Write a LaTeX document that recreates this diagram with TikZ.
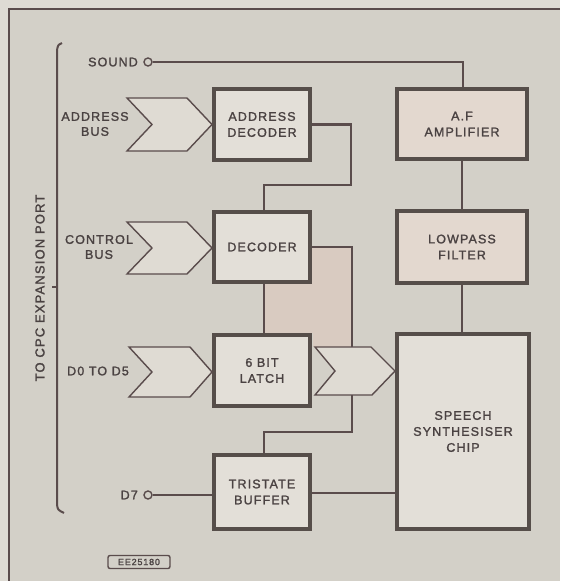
\documentclass[tikz,border=0pt]{standalone}
\usepackage{fontspec}
\setmainfont{Liberation Sans}[LetterSpace=9,FakeBold=1.6]
\usetikzlibrary{calc}
\definecolor{bgc}{HTML}{D3D0C8}
\definecolor{outc}{HTML}{DEDBD4}
\definecolor{boxf}{HTML}{E3DFD8}
\definecolor{pinkf}{HTML}{E3D8CF}
\definecolor{shadef}{HTML}{D9CBC1}
\definecolor{bord}{HTML}{564E4A}
\definecolor{linec}{HTML}{5A4C4C}
\definecolor{txt}{HTML}{4A4242}
\definecolor{chevf}{HTML}{DFDBD3}
\begin{document}
\begin{tikzpicture}[x=1pt,y=-1pt,
  blk/.style={draw=bord,line width=4pt,fill=boxf,inner sep=0pt,align=center,
     text=txt,font=\fontsize{12.5}{16}\selectfont},
  pblk/.style={blk,fill=pinkf},
  wire/.style={draw=linec,line width=2.2pt},
  chev/.style={draw=linec,line width=1.4pt,fill=chevf,line join=miter},
  lbl/.style={text=txt,font=\fontsize{12.5}{15}\selectfont,align=center,inner sep=0pt},
  term/.style={circle,draw=linec,line width=1.4pt,fill=bgc,minimum size=8pt,inner sep=0pt}]
\useasboundingbox (0,0) rectangle (560,581);
\fill[outc] (0,0) rectangle (560,581);
\fill[bgc] (9,9) rectangle (560,581);
\draw[line width=1.8pt,draw=linec] (9,581) -- (9,9) -- (560,9);

% bracket
\draw[line width=2pt,draw=linec] (62,43) .. controls (58,45) .. (57,50) -- (57,505) .. controls (58,510) .. (64,513);
\draw[line width=2pt,draw=linec] (52,287) -- (57,287);
\node[lbl,rotate=90,font=\fontsize{13}{15}\selectfont] (port) at (40,288) {TO CPC EXPANSION PORT};

% shaded region between decoder and latch
\fill[shadef] (264,284) -- (312,284) -- (312,247) -- (352,247) -- (352,347) -- (313,347) -- (313,333) -- (264,333) -- cycle;

% blocks
\node[blk,minimum width=96pt,minimum height=71pt] (adec) at (262,124.5) {ADDRESS\\DECODER};
\node[blk,minimum width=96pt,minimum height=70pt] (dec) at (262,247) {DECODER};
\node[blk,minimum width=96pt,minimum height=71pt] (latch) at (262,370.5) {6 BIT\\LATCH};
\node[blk,minimum width=96pt,minimum height=74pt] (tri) at (262,492) {TRISTATE\\BUFFER};
\node[pblk,minimum width=130pt,minimum height=70pt] (af) at (462,124) {A.F\\AMPLIFIER};
\node[pblk,minimum width=130pt,minimum height=72pt] (lp) at (462,247) {LOWPASS\\FILTER};
\node[blk,minimum width=132pt,minimum height=195pt] (chip) at (463,431.5) {SPEECH\\SYNTHESISER\\CHIP};

% input chevrons
\draw[chev] (127,98) -- (187,98) -- (212,124.5) -- (187,151) -- (127,151) -- (152,124.5) -- cycle;
\draw[chev] (127,222) -- (187,222) -- (212,248) -- (187,274) -- (127,274) -- (152,248) -- cycle;
\draw[chev] (129,347) -- (190,347) -- (212,372) -- (190,397) -- (129,397) -- (152,372) -- cycle;
% output chevron
\draw[chev] (315,347) -- (371,347) -- (395,371) -- (372,395) -- (315,395) -- (335,371) -- cycle;
\coordinate (ochevtop) at (352,347);
\coordinate (ochevbot) at (352,395);

% labels
\node[lbl] (abus) at (95,124) {ADDRESS\\BUS};
\node[lbl] (cbus) at (99,247) {CONTROL\\BUS};
\node[lbl] (dbus) at (98,371) {D0 TO D5};
\node[lbl,anchor=east] (sndl) at (138,62) {SOUND};
\node[term] (snd) at (148,62) {};
\node[lbl,anchor=east] (d7l) at (138,495) {D7};
\node[term] (d7) at (148,495) {};

% connectors
\draw[wire] (snd.east) -- (463,62) coordinate (sndc) -- (sndc |- af.north);
\draw[wire] (af.south) -- (lp.north);
\draw[wire] (lp.south) -- (lp.south |- chip.north);
\draw[wire] (adec.east) -- (351,124.5) -- (351,185) -- (264,185) -- ($(dec.north)+(2,0)$);
\draw[wire] (dec.east) -- (352,247) -- (ochevtop);
\draw[wire] ($(dec.south)+(2,0)$) -- ($(latch.north)+(2,0)$);
\draw[wire] (ochevbot) -- (352,432) -- (264,432) -- ($(tri.north)+(2,0)$);
\draw[wire] (tri.east |- 0,493) -- (chip.west |- 0,493);
\draw[wire] (d7.east) -- (tri.west |- 0,495);

% figure code
\node[draw=linec,line width=1.4pt,rounded corners=2pt,minimum width=62pt,minimum height=13pt,inner sep=0pt,
  text=txt,font=\fontsize{9}{9}\selectfont] (code) at (139,562) {EE25180};
\end{tikzpicture}
\end{document}
